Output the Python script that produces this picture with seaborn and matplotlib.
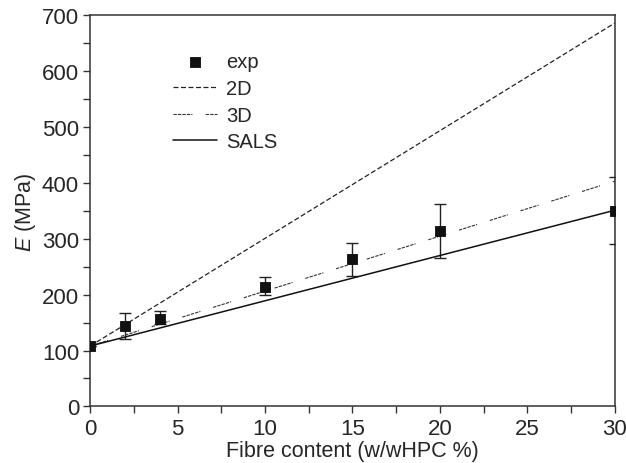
"""Young's modulus vs fibre content: experiment and model predictions."""

import numpy as np
import pandas as pd
import seaborn as sns
import matplotlib.pyplot as plt
from matplotlib.ticker import MultipleLocator

# experimental data
fibre_exp = [0, 2, 4, 10, 15, 20, 30]
E_exp = [108, 143, 157, 213, 263, 314, 349]
E_low = [108, 120, 147, 199, 233, 266, 290]
E_high = [108, 167, 170, 231, 293, 363, 410]

# model predictions
fibre_model = [0, 30]
E_2d = [108, 686]
E_3d = [108, 403]
E_sals = [108, 351]

sns.set_style("ticks")
plt.rcParams["font.family"] = ["Liberation Sans", "DejaVu Sans"]
plt.rcParams["mathtext.fontset"] = "custom"
plt.rcParams["mathtext.it"] = "Liberation Sans:italic"
plt.rcParams["mathtext.rm"] = "Liberation Sans"

fig, ax = plt.subplots(figsize=(6.26, 4.64), dpi=100)
fig.subplots_adjust(left=0.144, right=0.982, top=0.965, bottom=0.122)

exp_df = pd.DataFrame({"x": fibre_exp, "E": E_exp})
yerr = np.array([np.array(E_exp) - np.array(E_low),
                 np.array(E_high) - np.array(E_exp)])

ax.errorbar(fibre_exp, E_exp, yerr=yerr, fmt="none", ecolor="#222222",
            elinewidth=1.0, capsize=4, capthick=1.0, zorder=2)
sns.scatterplot(data=exp_df, x="x", y="E", ax=ax, marker="s", s=62,
                color="#111111", edgecolor="#111111", label="exp", zorder=3)

sns.lineplot(x=fibre_model, y=E_2d, ax=ax, color="#222222", lw=0.9,
             linestyle=(0, (4, 2)), label="2D")
sns.lineplot(x=fibre_model, y=E_3d, ax=ax, color="#333333", lw=0.8,
             linestyle=(0, (3, 1, 3, 1, 3, 1, 3, 1, 1, 12)), label="3D")
sns.lineplot(x=fibre_model, y=E_sals, ax=ax, color="#111111", lw=1.1,
             label="SALS")

ax.set_xlim(0, 30)
ax.set_ylim(0, 700)
ax.xaxis.set_major_locator(MultipleLocator(5))
ax.xaxis.set_minor_locator(MultipleLocator(2.5))
ax.yaxis.set_major_locator(MultipleLocator(100))
ax.yaxis.set_minor_locator(MultipleLocator(50))
ax.tick_params(which="both", direction="out", length=5, width=1,
               labelsize=16, color="#333333", pad=3)
for side in ["top", "right", "left", "bottom"]:
    ax.spines[side].set_visible(True)
    ax.spines[side].set_linewidth(1.1)
    ax.spines[side].set_color("#333333")

ax.set_xlabel("Fibre content (w/wHPC %)", fontsize=15.5, labelpad=1)
ax.set_ylabel("$E$ (MPa)", fontsize=15.5, labelpad=3)

leg = ax.legend(loc="upper left", bbox_to_anchor=(0.158, 0.905),
                borderaxespad=0, borderpad=0, frameon=False,
                fontsize=14.5, handlelength=2.2, labelspacing=0.38,
                handletextpad=0.45, markerscale=0.85)

plt.savefig("out.png", dpi=100)
